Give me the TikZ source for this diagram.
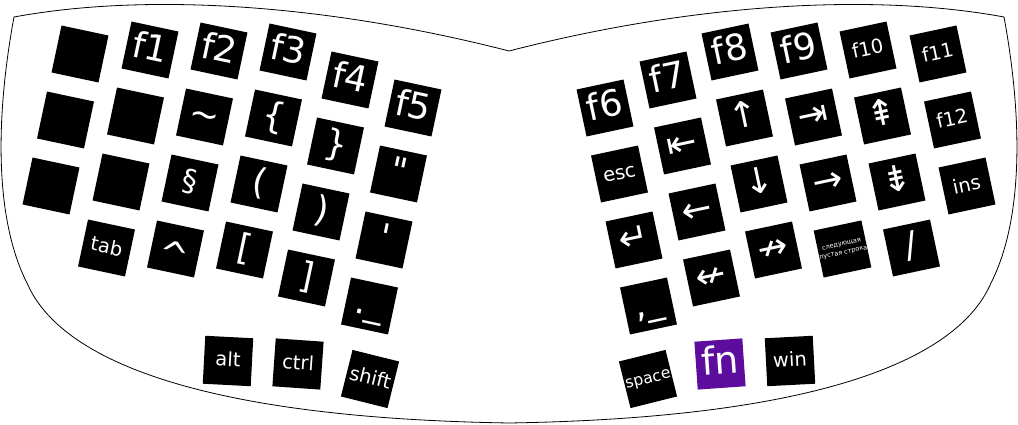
\documentclass[tikz,border=0pt]{standalone}
\usepackage{fontspec}
\newfontfamily\keyfont{DejaVu Sans}
\usetikzlibrary{positioning}
\definecolor{fnpurple}{RGB}{94,12,158}
\tikzset{
    key/.style={
           rectangle,
           fill=black,
           text=white,
           minimum size=48pt,
           inner sep=0pt,
           font=\keyfont\fontsize{36}{40}\selectfont,
           execute at begin node={\vphantom{fg}},
           },
    leftkey/.style={key, rotate=-12},
    rightkey/.style={key, rotate=12},
    word/.style={font=\keyfont\fontsize{19.5}{22}\selectfont},
}

\begin{document}
\begin{tikzpicture}[x=1pt,y=1pt,node distance=66pt]
 \useasboundingbox (0,0) rectangle (1018,425);

 % outline of the case
 \draw[line width=0.8pt] (509,374) .. controls (330,420) and (150,433) .. (14,408)
   .. controls (-5,305) and (-5,205) .. (27,142)
   .. controls (60,65) and (200,7) .. (509,2)
   .. controls (818,7) and (958,65) .. (991,142)
   .. controls (1023,205) and (1023,305) .. (1004,408)
   .. controls (868,433) and (688,420) .. (509,374) -- cycle;

 % LEFT HALF top row
 \node[leftkey] (L1) at (80,371) {};
 \node[leftkey] (F1) at (150,375) {f1};
 \node[leftkey] (F2) at (219,374) {f2};
 \node[leftkey] (F3) at (288,373) {f3};
 \node[leftkey] (F4) at (350,345) {f4};
 \node[leftkey] (F5) at (413,317) {f5};

 % each row one step down its column
 \node[below of=L1, xshift=-14.5pt, leftkey] (L2) {};
 \node[below of=F1, xshift=-14.5pt, leftkey] (L3) {};
 \node[below of=F2, xshift=-14.5pt, leftkey] (Tilde) {\textasciitilde};
 \node[below of=F3, xshift=-14.5pt, leftkey] (LBrace) {\{};
 \node[below of=F4, xshift=-14.5pt, leftkey] (RBrace) {\}};
 \node[below of=F5, xshift=-14.5pt, leftkey] (DQuote) {"};

 \node[below of=L2, xshift=-14.5pt, leftkey] (L4) {};
 \node[below of=L3, xshift=-14.5pt, leftkey] (L5) {};
 \node[below of=Tilde, xshift=-14.5pt, leftkey,
  font=\keyfont\fontsize{30}{34}\selectfont] (Para) {\S};
 \node[below of=LBrace, xshift=-14.5pt, leftkey] (LParen) {(};
 \node[below of=RBrace, xshift=-14.5pt, leftkey] (RParen) {)};
 \node[below of=DQuote, xshift=-14.5pt, leftkey] (SQuote) {'};

 \node[below of=L5, xshift=-14.5pt, leftkey, word] (Tab) {tab};
 \node[below of=Para, xshift=-14.5pt, leftkey] (Caret) {\raisebox{-0.32em}{\textasciicircum}};
 \node[below of=LParen, xshift=-14.5pt, leftkey] (LBrack) {[};
 \node[below of=RParen, xshift=-14.5pt, leftkey] (RBrack) {]};
 \node[below of=SQuote, xshift=-14.5pt, leftkey] (DotBar) {.\_};

 % left thumb
 \node[key, word, rotate=-3] (Alt) at (228,64) {alt};
 \node[key, word, rotate=-4] (Ctrl) at (298,61) {ctrl};
 \node[key, word, rotate=-14] (Shift) at (370,46) {shift};

 % RIGHT HALF top row
 \node[rightkey] (F6) at (605,317) {f6};
 \node[rightkey] (F7) at (668,345) {f7};
 \node[rightkey] (F8) at (730,373) {f8};
 \node[rightkey] (F9) at (799,374) {f9};
 \node[rightkey, word] (F10) at (868,375) {f10};
 \node[rightkey, word] (F11) at (938,371) {f11};

 \node[below of=F6, xshift=14.5pt, rightkey, word] (Esc) {esc};
 \node[below of=F7, xshift=14.5pt, rightkey] (Home) {⇤};
 \node[below of=F8, xshift=14.5pt, rightkey] (Up) {↑};
 \node[below of=F9, xshift=14.5pt, rightkey] (End) {⇥};
 \node[below of=F10, xshift=14.5pt, rightkey] (PgUp) {⇞};
 \node[below of=F11, xshift=14.5pt, rightkey, word] (F12) {f12};

 \node[below of=Esc, xshift=14.5pt, rightkey] (Enter) {↵};
 \node[below of=Home, xshift=14.5pt, rightkey] (Left) {←};
 \node[below of=Up, xshift=14.5pt, rightkey] (Down) {↓};
 \node[below of=End, xshift=14.5pt, rightkey] (Right) {→};
 \node[below of=PgUp, xshift=14.5pt, rightkey] (PgDn) {⇟};
 \node[below of=F12, xshift=14.5pt, rightkey, word] (Ins) {ins};

 \node[below of=Enter, xshift=14.5pt, rightkey] (CommaBar) {,\_};
 \node[below of=Left, xshift=14.5pt, rightkey] (BackWord) {↚};
 \node[below of=Down, xshift=14.5pt, rightkey] (NextWord) {↛};
 \node[below of=Right, xshift=14.5pt, rightkey, align=center,
  execute at begin node={},
  font=\keyfont\fontsize{6.5}{8.5}\selectfont] (NextLine) {следующая\\пустая строка};
 \node[below of=PgDn, xshift=14.5pt, rightkey] (Slash) {/};

 % right thumb
 \node[key, rotate=14, font=\keyfont\fontsize{15.7}{18}\selectfont] (Space) at (648,46) {space};
 \node[key, fill=fnpurple, rotate=4,
  font=\keyfont\fontsize{38}{42}\selectfont] (Fn) at (720,61) {fn};
 \node[key, word, rotate=3] (Win) at (790,64) {win};

\end{tikzpicture}
\end{document}
